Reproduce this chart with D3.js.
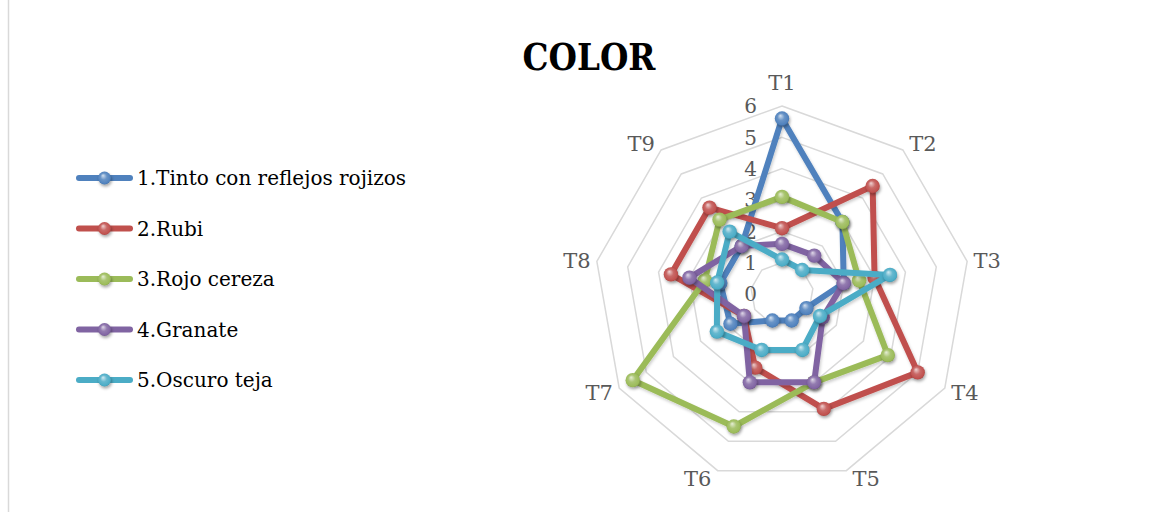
<!DOCTYPE html>
<html><head><meta charset="utf-8">
<script src="https://cdn.jsdelivr.net/npm/d3@7"></script>
<style>html,body{margin:0;padding:0;background:#fff;}svg{display:block;}</style>
</head><body>
<svg id="chart" width="1170" height="512"></svg>
<script>
const categories = ["T1","T2","T3","T4","T5","T6","T7","T8","T9"];
const seriesNames = ["1.Tinto con reflejos rojizos","2.Rubi","3.Rojo cereza","4.Granate","5.Oscuro teja"];
const tinto   = [5.6, 3.0, 2.0, 0.9, 0.9, 0.9, 1.9, 2.0, 2.0];
const rubi    = [2.1, 4.5, 3.0, 5.0, 3.9, 2.5, 1.4, 3.6, 3.6];
const rojo    = [3.1, 3.0, 2.5, 3.9, 3.0, 4.5, 5.5, 2.5, 3.1];
const granate = [1.6, 1.6, 2.0, 1.5, 3.0, 3.0, 1.4, 3.0, 2.0];
const oscuro  = [1.1, 1.0, 3.5, 1.4, 1.9, 1.9, 2.4, 2.1, 2.6];
const tickValues = [0,1,2,3,4,5,6];
const colors = ["#4F81BD","#C0504D","#9BBB59","#8064A2","#4BACC6"];

const seriesValues = [tinto, rubi, rojo, granate, oscuro];
const svg = d3.select("#chart");
const W = 1170, H = 512;
const cx = 782, cy = 294, R = 188;
const font = "'DejaVu Serif', serif";

// defs: gradients and shadow
const defs = svg.append("defs");
colors.forEach((c, i) => {
  const g = defs.append("radialGradient").attr("id", "grad" + i)
    .attr("cx", "50%").attr("cy", "50%").attr("r", "55%")
    .attr("fx", "38%").attr("fy", "30%");
  g.append("stop").attr("offset", "0%").attr("stop-color", d3.interpolateRgb(c, "#ffffff")(0.75));
  g.append("stop").attr("offset", "45%").attr("stop-color", d3.interpolateRgb(c, "#ffffff")(0.15));
  g.append("stop").attr("offset", "85%").attr("stop-color", c);
  g.append("stop").attr("offset", "100%").attr("stop-color", d3.interpolateRgb(c, "#000000")(0.3));
});
const f = defs.append("filter").attr("id", "shadow").attr("x", "-50%").attr("y", "-50%").attr("width", "200%").attr("height", "200%");
f.append("feDropShadow").attr("dx", 1).attr("dy", 2).attr("stdDeviation", 1.6).attr("flood-color", "#000").attr("flood-opacity", 0.35);
const f2 = defs.append("filter").attr("id", "lshadow").attr("x", "-20%").attr("y", "-20%").attr("width", "140%").attr("height", "140%");
f2.append("feDropShadow").attr("dx", 1).attr("dy", 2).attr("stdDeviation", 1.5).attr("flood-color", "#000").attr("flood-opacity", 0.2);

// left border
svg.append("line").attr("x1", 8.5).attr("x2", 8.5).attr("y1", 0).attr("y2", H)
  .attr("stroke", "#d9d9d9").attr("stroke-width", 1.5);

// title
svg.append("text").attr("x", 589).attr("y", 70).attr("text-anchor", "middle")
  .attr("font-family", font).attr("font-weight", "bold").attr("font-size", 38)
  .attr("textLength", 133).attr("lengthAdjust", "spacingAndGlyphs")
  .attr("fill", "#000").text("COLOR");

const r = d3.scaleLinear().domain([0, 6]).range([0, R]);
const step = 2 * Math.PI / categories.length;
const ang = i => i * step;

const g = svg.append("g").attr("transform", `translate(${cx},${cy})`);

// grid rings
const ring = d3.lineRadial().angle((d, i) => ang(i)).radius(d => r(d)).curve(d3.curveLinearClosed);
tickValues.filter(v => v > 0).forEach(v => {
  g.append("path").attr("d", ring(categories.map(() => v)))
    .attr("fill", "none").attr("stroke", "#d9d9d9").attr("stroke-width", 1.5);
});

// tick labels
g.selectAll(".tick").data(tickValues).join("text")
  .attr("x", -25).attr("y", d => -r(d)).attr("dy", "0.36em")
  .attr("text-anchor", "end").attr("font-family", font).attr("font-size", 20)
  .attr("fill", "#595959").text(d => d);

// category labels
categories.forEach((c, i) => {
  const a = ang(i), s = Math.sin(a), co = Math.cos(a);
  let x = R * s, y = -R * co;
  if (Math.abs(s) < 0.1) { y -= 24; }
  else { x += Math.sign(s) * 20; y -= co * 8; }
  g.append("text").attr("x", x).attr("y", y).attr("dy", "0.36em")
    .attr("text-anchor", "middle").attr("font-family", font).attr("font-size", 21)
    .attr("fill", "#595959").text(c);
});

// series
const line = d3.lineRadial().angle((d, i) => ang(i)).radius(d => r(d)).curve(d3.curveLinearClosed);
seriesValues.forEach((vals, s) => {
  g.append("path").attr("d", line(vals)).attr("fill", "none")
    .attr("stroke", colors[s]).attr("stroke-width", 6).attr("stroke-linejoin", "round")
    .attr("filter", "url(#lshadow)");
  g.selectAll(".m" + s).data(vals).join("circle")
    .attr("cx", (d, i) => r(d) * Math.sin(ang(i)))
    .attr("cy", (d, i) => -r(d) * Math.cos(ang(i)))
    .attr("r", 7.2).attr("fill", `url(#grad${s})`).attr("filter", "url(#shadow)");
});

// legend
const legY0 = 178, legStep = 50.5;
seriesNames.forEach((n, s) => {
  const y = legY0 + s * legStep;
  svg.append("line").attr("x1", 79).attr("x2", 130).attr("y1", y).attr("y2", y)
    .attr("stroke", colors[s]).attr("stroke-width", 6).attr("stroke-linecap", "round");
  svg.append("circle").attr("cx", 104.5).attr("cy", y).attr("r", 6.5)
    .attr("fill", `url(#grad${s})`).attr("filter", "url(#shadow)");
  svg.append("text").attr("x", 137).attr("y", y).attr("dy", "0.36em")
    .attr("font-family", font).attr("font-size", 20).attr("fill", "#000").text(n);
});
</script>
</body></html>
